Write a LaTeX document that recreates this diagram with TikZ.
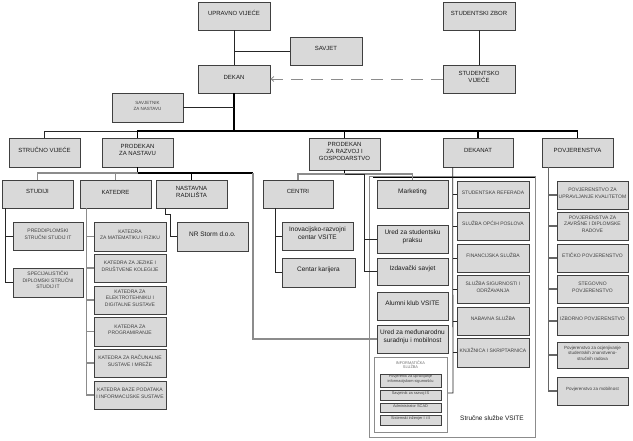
\documentclass[tikz,border=0pt]{standalone}
\usepackage{fontspec}
\setmainfont{Liberation Sans}
\usetikzlibrary{fit,arrows.meta}
\definecolor{boxfill}{HTML}{D9D9D9}
\definecolor{boxline}{HTML}{404040}
\definecolor{lgray}{HTML}{8C8C8C}
\definecolor{txt}{HTML}{1A1A1A}
\definecolor{stxt}{HTML}{404040}
\newcommand\fsz[2]{\fontsize{#1}{#2}\selectfont}
\newcommand\bx[6][]{\node[box,#1,fit={(#3,#4)(#5,#6)}] (#2)}
\tikzset{
  box/.style={draw=boxline, fill=boxfill, line width=0.7pt, inner sep=0pt, align=center, text=txt, font=\fsz{6}{7}},
  fsmall/.style={font=\fsz{5}{6.5}, text=stxt},
  fxs/.style={font=\fsz{4.5}{5.4}, text=stxt},
  ftiny/.style={font=\fsz{3.9}{4.6}, text=stxt},
  fmix/.style={font=\fsz{6.5}{8}},
  cdark/.style={draw=black!85, line width=0.8pt},
  cthick/.style={draw=black, line width=1.4pt},
  cgray/.style={draw=lgray, line width=1.2pt},
  cpov/.style={draw=black!60, line width=1.2pt},
  cdash/.style={draw=lgray, line width=0.8pt, dash pattern=on 12pt off 8pt, -{Straight Barb[length=3pt,width=5pt]}},
  framebox/.style={draw=lgray, line width=0.9pt, inner sep=0pt},
  contbox/.style={draw=lgray, line width=0.6pt, fill=white, inner sep=0pt},
}
\begin{document}
\begin{tikzpicture}[x=1pt,y=-1pt]
\fill[white] (0,0) rectangle (633,440);
\useasboundingbox (0,0) rectangle (633,440);

% frame of Strucne sluzbe
\node[framebox, fit={(369,176)(535,437)}] (ss) {};
\draw[black, line width=0.6pt] (373,177.5) -- (535,177.5);
\node[font=\fsz{6.5}{8}, text=txt] (sslbl) at (492,418) {Stručne službe VSITE};

% top level
\bx{uv}{198}{2}{270}{30} {UPRAVNO VIJEĆE};
\bx{savjet}{290}{37}{362}{65} {SAVJET};
\bx{dekan}{198}{65}{270}{93} {DEKAN};
\bx{szbor}{443}{2}{515}{30} {STUDENTSKI ZBOR};
\bx{svij}{443}{65}{515}{93} {STUDENTSKO\\VIJEĆE};
\bx[fxs]{savn}{112}{93}{183}{122} {SAVJETNIK\\ZA NASTAVU};

% second row
\bx{stv}{9}{138}{80}{167} {STRUČNO VIJEĆE};
\bx{pn}{102}{138}{173}{167} {PRODEKAN\\ZA NASTAVU};
\bx{pr}{309}{138}{380}{170} {PRODEKAN\\ZA RAZVOJ I\\GOSPODARSTVO};
\bx{dkt}{443}{138}{513}{167} {DEKANAT};
\bx{pov}{542}{138}{613}{167} {POVJERENSTVA};

% third row
\bx{studiji}{2}{180}{73}{208} {STUDIJI};
\bx{katedre}{80}{180}{151}{208} {KATEDRE};
\bx{nastavna}{156}{180}{227}{208} {NASTAVNA\\RADILIŠTA};
\bx{centri}{263}{180}{333}{208} {CENTRI};
\bx[fmix]{mkt}{377}{180}{448}{208} {Marketing};

% studiji
\bx[fsmall]{pss}{13}{222}{83}{250} {PREDDIPLOMSKI\\STRUČNI STUDIJ IT};
\bx[fsmall]{sds}{13}{268}{83}{297} {SPECIJALISTIČKI\\DIPLOMSKI STRUČNI\\STUDIJ IT};

% katedre
\bx[fsmall]{k1}{94}{222}{166}{251} {KATEDRA\\ZA MATEMATIKU I FIZIKU};
\bx[fsmall]{k2}{94}{254}{166}{282} {KATEDRA ZA JEZIKE I\\DRUŠTVENE KOLEGIJE};
\bx[fsmall]{k3}{94}{286}{166}{314} {KATEDRA ZA\\ELEKTROTEHNIKU I\\DIGITALNE SUSTAVE};
\bx[fsmall]{k4}{94}{317}{166}{346} {KATEDRA ZA\\PROGRAMIRANJE};
\bx[fsmall]{k5}{94}{349}{166}{377} {KATEDRA ZA RAČUNALNE\\SUSTAVE I MREŽE};
\bx[fsmall]{k6}{94}{381}{166}{409} {KATEDRA BAZE PODATAKA\\I INFORMACIJSKE SUSTAVE};

% nastavna radilista
\bx[fmix]{nr}{177}{222}{248}{251} {NR Storm d.o.o.};

% centri
\bx[fmix]{inov}{282}{222}{353}{250} {Inovacijsko-razvojni\\centar VSITE};
\bx[fmix]{ck}{282}{258}{355}{287} {Centar karijera};

% marketing column
\bx[fmix]{usp}{377}{225}{448}{253} {Ured za studentsku\\praksu};
\bx[fmix]{izd}{377}{258}{448}{285} {Izdavački savjet};
\bx[fmix]{alu}{377}{292}{448}{320} {Alumni klub VSITE};
\bx[fmix]{umd}{377}{325}{448}{353} {Ured za međunarodnu\\suradnju i mobilnost};

% informaticka sluzba
\node[contbox, fit={(374,357)(447,432)}] (inf) {};
\node[ftiny, align=center, text=lgray!80!black] (inft) at (410.5,365) {INFORMATIČKA\\SLUŽBA};
\bx[ftiny]{ispov}{380}{374}{441}{387} {Povjerenik za upravljanje\\informacijskom sigurnošću};
\bx[ftiny]{issav}{380}{390}{441}{400} {Savjetnik za razvoj IS};
\bx[ftiny]{isadm}{380}{403}{441}{412} {Administrator SCAD};
\bx[ftiny]{issis}{380}{415}{441}{425} {Sistemski inženjer I i II};

% dekanat column
\bx[fsmall]{sr}{457}{181}{529}{208} {STUDENTSKA REFERADA};
\bx[fsmall]{sop}{457}{212}{529}{240} {SLUŽBA OPĆIH POSLOVA};
\bx[fsmall]{fs}{457}{244}{529}{272} {FINANCIJSKA SLUŽBA};
\bx[fsmall]{sso}{457}{275}{529}{303} {SLUŽBA SIGURNOSTI I\\ODRŽAVANJA};
\bx[fsmall]{ns}{457}{307}{529}{335} {NABAVNA SLUŽBA};
\bx[fsmall]{ks}{457}{338}{529}{367} {KNJIŽNICA I SKRIPTARNICA};

% povjerenstva column
\bx[fsmall]{p1}{557}{181}{628}{209} {POVJERENSTVO ZA\\UPRAVLJANJE KVALITETOM};
\bx[fsmall]{p2}{557}{212}{628}{240} {POVJERENSTVA ZA\\ZAVRŠNE I DIPLOMSKE\\RADOVE};
\bx[fsmall]{p3}{557}{244}{628}{272} {ETIČKO POVJERENSTVO};
\bx[fsmall]{p4}{557}{275}{628}{303} {STEGOVNO\\POVJERENSTVO};
\bx[fsmall]{p5}{557}{307}{628}{335} {IZBORNO POVJERENSTVO};
\bx[fxs]{p6}{557}{342}{628}{368} {Povjerenstvo za ocjenjivanje\\studentskih znanstveno-\\stručnih radova};
\bx[fxs]{p7}{557}{377}{628}{405} {Povjerenstvo za mobilnost};

% ---------- connectors ----------
\draw[cdark] (uv) -- (dekan);
\draw[cdark] (savjet.west) -- (savjet.west -| dekan.center);
\draw[cdark] (szbor) -- (svij);
\draw[cdash] (svij.west) -- (dekan.east);

\coordinate (busA) at (234,131);
\draw[cthick] (dekan.south) -- (busA);
\draw[cdark] (savn.east) -- (savn.east -| busA);
\draw[cdark] (stv.north) |- (pn.north |- busA);
\draw[cthick] (pn.north) |- (pov.north |- busA) -- (pov.north);
\draw[cthick] (pr.north) -- (pr.north |- busA);
\draw[cthick] (dkt.north) -- (dkt.north |- busA);

% prodekan za nastavu
\coordinate (busB) at (137.5,173);
\coordinate (busBr) at (253,173);
\draw[cthick] (pn.south) -- (busB);
\draw[cgray] (studiji.north) |- (busB);
\draw[cgray] (katedre.north) -- (katedre.north |- busB);
\draw[cthick] (nastavna.north) -- (nastavna.north |- busB);
\draw[cthick] (busB) -- (busBr);
\draw[cgray] (busBr) |- (umd.west);

% studiji
\coordinate (sjx) at ([xshift=4pt]studiji.south west);
\draw[cdark] (sjx) |- (sds.west);
\draw[cdark] (pss.west) -- (pss.west -| sjx);

% katedre
\coordinate (kx) at ([xshift=7pt]katedre.south west);
\draw[cgray] (kx) |- (k6.west);
\foreach \k in {k1,k2,k3,k4,k5} \draw[cgray] (\k.west) -- (\k.west -| kx);

% nastavna -> NR
\draw[cdark] ([xshift=10pt]nastavna.south west) -- ++(0,6) -- ++(5,0) |- (nr.west);

% prodekan za razvoj
\coordinate (busC) at (344.5,174);
\coordinate (rx) at (364,174);
\draw[cthick] (pr.south) -- (busC);
\draw[cgray] (centri.north) |- (mkt.north |- busC) -- (mkt.north);
\draw[cdark] (busC) -- (rx) |- (izd.west);
\draw[cdark] (usp.west) -- (usp.west -| rx);

% centri
\coordinate (cx) at ([xshift=13pt]centri.south west);
\draw[cdark] (cx) |- (ck.west);
\draw[cdark] (inov.west) -- (inov.west -| cx);

% dekanat
\coordinate (dx) at ([xshift=10pt]dkt.south west);
\coordinate (dend) at (453,393);
\draw[cdark] (dx) -- (dend) -- ++(-5,0);
\foreach \d in {sr,sop,fs,sso,ns,ks} \draw[cdark] (\d.west) -- (\d.west -| dx);

% povjerenstva
\coordinate (px) at ([xshift=7pt]pov.south west);
\draw[cpov] (px) |- (p7.west);
\foreach \p in {p1,p2,p3,p4,p5,p6} \draw[cpov] (\p.west) -- (\p.west -| px);
\end{tikzpicture}
\end{document}
